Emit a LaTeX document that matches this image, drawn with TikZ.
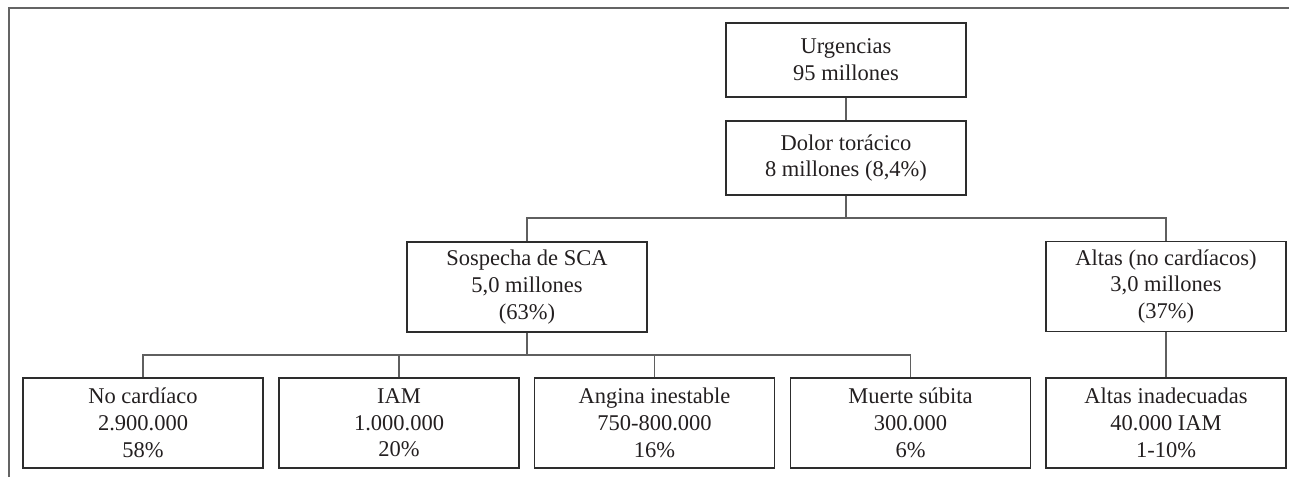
\documentclass[tikz,border=0pt]{standalone}
\usepackage{fontspec}
\setmainfont{Liberation Serif}
\definecolor{framec}{RGB}{100,100,100}
\definecolor{linec}{RGB}{95,95,95}
\definecolor{boxc}{RGB}{45,45,45}
\definecolor{txtc}{RGB}{35,31,32}
\tikzset{
  boxnode/.style={draw=boxc, line width=1.1pt, minimum width=240pt, inner sep=0pt,
    align=center, text=txtc, font=\fontsize{22.5pt}{26.7pt}\selectfont},
  tall/.style={boxnode, minimum height=90pt},
  short/.style={boxnode, minimum height=74pt},
  conn/.style={draw=linec, line width=1.1pt},
  framel/.style={draw=framec, line width=1.5pt}
}
\begin{document}
\begin{tikzpicture}[x=1pt,y=-1pt]
\useasboundingbox (0,0) rectangle (1289,477);
\draw[framel] (9,477) -- (9,8) -- (1289,8);

\node[short] (urg) at (846,60) {Urgencias\\95 millones};
\node[short] (dol) at (846,158) {Dolor torácico\\8 millones (8,4\%)};
\node[tall] (sca) at (527,287) {Sospecha de SCA\\5,0 millones\\(63\%)};
\node[tall] (alt) at (1166,286.5) {Altas (no cardíacos)\\3,0 millones\\(37\%)};

\node[tall] (noc) at (143,423) {No cardíaco\\2.900.000\\58\%};
\node[tall] (iam) at (399,423) {IAM\\1.000.000\\20\%};
\node[tall] (ang) at (654.5,423) {Angina inestable\\750-800.000\\16\%};
\node[tall] (mue) at (910.5,423) {Muerte súbita\\300.000\\6\%};
\node[tall] (ina) at (1166,423) {Altas inadecuadas\\40.000 IAM\\1-10\%};

\coordinate (h1) at (846,218);
\coordinate (h2) at (527,355);

\draw[conn] (urg) -- (dol);
\draw[conn] (dol) -- (h1);
\draw[conn] (sca.north) |- (h1) -| (alt.north);
\draw[conn] (sca) -- (h2);
\draw[conn] (noc.north) |- (h2) -| (mue.north);
\draw[conn] (iam.north) -- (iam.north |- h2);
\draw[conn] (ang.north) -- (ang.north |- h2);
\draw[conn] (alt) -- (ina);
\end{tikzpicture}
\end{document}
